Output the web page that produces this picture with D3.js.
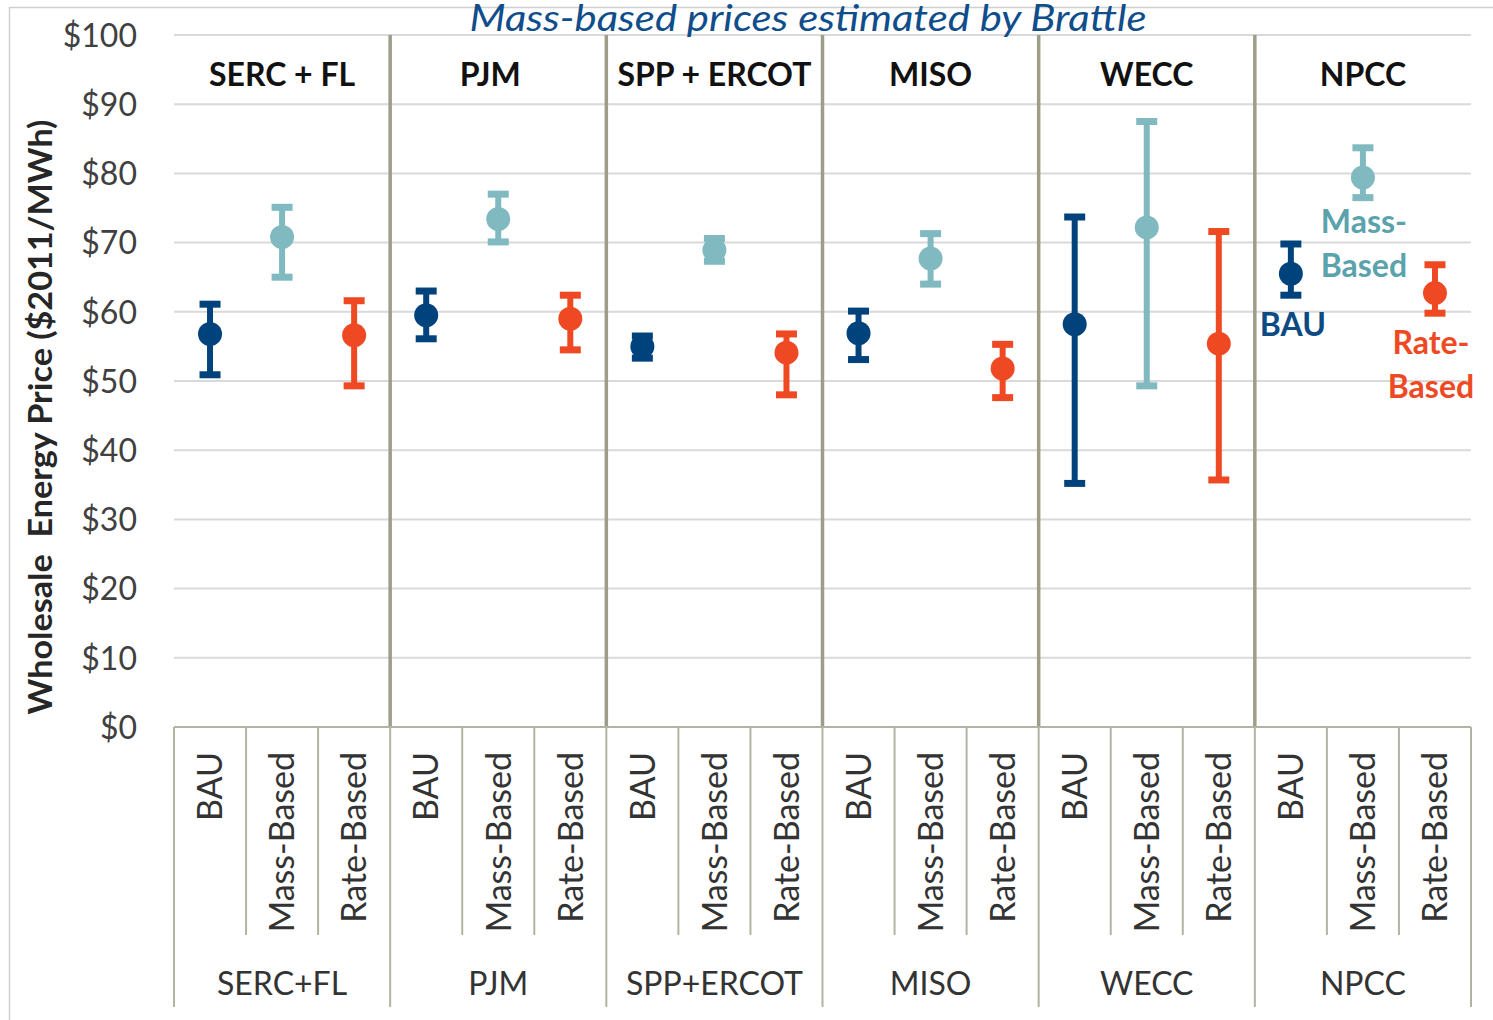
<!DOCTYPE html>
<html>
<head>
<meta charset="utf-8">
<script src="https://cdn.jsdelivr.net/npm/d3@7"></script>
<style>
  html, body { margin: 0; padding: 0; background: #fff; }
  svg { display: block; font-family: Lato, "Open Sans", sans-serif; }
</style>
</head>
<body>
<svg id="chart" width="1493" height="1020"></svg>
<script>
// ---- data ----
const regions = ["SERC+FL", "PJM", "SPP+ERCOT", "MISO", "WECC", "NPCC"];
const headerLabels = ["SERC + FL", "PJM", "SPP + ERCOT", "MISO", "WECC", "NPCC"];
const scenarios = ["BAU", "Mass-Based", "Rate-Based"];
const bauMid  = [56.8, 59.5, 55.0, 56.9, 58.2, 65.5];
const bauLow  = [50.9, 56.1, 53.3, 53.1, 35.2, 62.4];
const bauHigh = [61.1, 63.0, 56.5, 60.1, 73.7, 69.8];
const massMid  = [70.8, 73.4, 68.9, 67.7, 72.2, 79.4];
const massLow  = [65.0, 70.1, 67.3, 64.0, 49.3, 76.5];
const massHigh = [75.1, 77.0, 70.6, 71.3, 87.5, 83.7];
const rateMid  = [56.6, 59.0, 54.1, 51.8, 55.4, 62.7];
const rateLow  = [49.3, 54.5, 48.0, 47.6, 35.7, 59.8];
const rateHigh = [61.6, 62.4, 56.8, 55.3, 71.6, 66.8];
const yTicks = [0, 10, 20, 30, 40, 50, 60, 70, 80, 90, 100];
const titleText = "Mass-based prices estimated by Brattle";
const yTitle = "Wholesale  Energy Price ($2011/MWh)";

const colors = { "BAU": "#00437c", "Mass-Based": "#80b9c0", "Rate-Based": "#ef4923" };
const labelColors = { "BAU": "#0b4a82", "Mass-Based": "#5aa3ac", "Rate-Based": "#ef4923" };

const series = [
  { name: "BAU", mid: bauMid, low: bauLow, high: bauHigh },
  { name: "Mass-Based", mid: massMid, low: massLow, high: massHigh },
  { name: "Rate-Based", mid: rateMid, low: rateLow, high: rateHigh }
];

// ---- layout ----
const svg = d3.select("#chart");
const pLeft = 174, pRight = 1471, pTop = 35, pBottom = 727;

const x0 = d3.scaleBand().domain(regions).range([pLeft, pRight]);
const x1 = d3.scaleBand().domain(scenarios).range([0, x0.bandwidth()]);
const y = d3.scaleLinear().domain([0, 100]).range([pBottom, pTop]);
const cx = (ri, s) => x0(regions[ri]) + x1(s) + x1.bandwidth() / 2;

// frame
svg.append("rect").attr("x", 9.5).attr("y", 7.5).attr("width", 1500).attr("height", 1030)
  .attr("fill", "none").attr("stroke", "#d0d0d0").attr("stroke-width", 1.5);

// gridlines
svg.append("g").selectAll("line").data(yTicks.filter(d => d > 0)).join("line")
  .attr("x1", pLeft).attr("x2", pRight)
  .attr("y1", d => y(d)).attr("y2", d => y(d))
  .attr("stroke", "#d9d9d9").attr("stroke-width", 2);

// y axis labels
const yAxis = d3.axisLeft(y).tickValues(yTicks).tickSize(0).tickPadding(37).tickFormat(d => "$" + d);
const ya = svg.append("g").attr("transform", `translate(${pLeft},0)`).call(yAxis);
ya.select(".domain").remove();
ya.selectAll("text").attr("font-family", "Lato, sans-serif").attr("font-size", 32)
  .attr("fill", "#404040").attr("dy", "0.35em");

// y title
svg.append("text")
  .attr("transform", "translate(52,417) rotate(-90)")
  .attr("text-anchor", "middle").attr("font-weight", "bold").attr("font-size", 33)
  .attr("fill", "#262626").style("white-space", "pre")
  .attr("textLength", 595).attr("lengthAdjust", "spacingAndGlyphs")
  .text(yTitle);

// group separators inside plot
svg.append("g").selectAll("line").data(regions.slice(1)).join("line")
  .attr("x1", d => x0(d)).attr("x2", d => x0(d))
  .attr("y1", y(100)).attr("y2", y(0))
  .attr("stroke", "#9d9d8a").attr("stroke-width", 3.5);

// category axis
const axisColor = "#b3b3a3";
svg.append("line").attr("x1", pLeft).attr("x2", pRight).attr("y1", y(0)).attr("y2", y(0))
  .attr("stroke", axisColor).attr("stroke-width", 2);
const innerTicks = [];
regions.forEach(r => { innerTicks.push(x0(r) + x1("Mass-Based")); innerTicks.push(x0(r) + x1("Rate-Based")); });
svg.append("g").selectAll("line").data(innerTicks).join("line")
  .attr("x1", d => d).attr("x2", d => d).attr("y1", y(0)).attr("y2", 935)
  .attr("stroke", axisColor).attr("stroke-width", 2);
const outerTicks = regions.map(r => x0(r)).concat([pRight]);
svg.append("g").selectAll("line").data(outerTicks).join("line")
  .attr("x1", d => d).attr("x2", d => d).attr("y1", y(0)).attr("y2", 1007)
  .attr("stroke", axisColor).attr("stroke-width", 2);

// rotated scenario labels
const catData = [];
regions.forEach((r, ri) => scenarios.forEach(s => catData.push({ ri, s })));
svg.append("g").selectAll("text").data(catData).join("text")
  .attr("transform", d => `translate(${cx(d.ri, d.s)},752) rotate(-90)`)
  .attr("text-anchor", "end").attr("dy", "0.36em")
  .attr("font-size", 34).attr("fill", "#333333")
  .text(d => d.s);

// region labels below
svg.append("g").selectAll("text").data(regions).join("text")
  .attr("x", d => x0(d) + x0.bandwidth() / 2).attr("y", 995)
  .attr("text-anchor", "middle").attr("font-size", 32).attr("fill", "#333333")
  .text(d => d);

// header labels inside plot
svg.append("g").selectAll("text").data(headerLabels).join("text")
  .attr("x", (d, i) => x0(regions[i]) + x0.bandwidth() / 2 + (d === "PJM" ? -8 : 0)).attr("y", 86)
  .attr("text-anchor", "middle").attr("font-weight", "bold").attr("font-size", 32).attr("fill", "#111")
  .text(d => d);

// error bars + markers
const capW = 21;
series.forEach(s => {
  const g = svg.append("g");
  const idx = d3.range(regions.length);
  g.selectAll("line.v").data(idx).join("line").attr("class", "v")
    .attr("x1", i => cx(i, s.name)).attr("x2", i => cx(i, s.name))
    .attr("y1", i => y(s.low[i])).attr("y2", i => y(s.high[i]))
    .attr("stroke", colors[s.name]).attr("stroke-width", 6);
  g.selectAll("line.ct").data(idx).join("line").attr("class", "ct")
    .attr("x1", i => cx(i, s.name) - capW / 2).attr("x2", i => cx(i, s.name) + capW / 2)
    .attr("y1", i => y(s.high[i])).attr("y2", i => y(s.high[i]))
    .attr("stroke", colors[s.name]).attr("stroke-width", 7);
  g.selectAll("line.cb").data(idx).join("line").attr("class", "cb")
    .attr("x1", i => cx(i, s.name) - capW / 2).attr("x2", i => cx(i, s.name) + capW / 2)
    .attr("y1", i => y(s.low[i])).attr("y2", i => y(s.low[i]))
    .attr("stroke", colors[s.name]).attr("stroke-width", 7);
  g.selectAll("circle").data(idx).join("circle")
    .attr("cx", i => cx(i, s.name)).attr("cy", i => y(s.mid[i])).attr("r", 12)
    .attr("fill", colors[s.name]);
});

// NPCC annotations
const ni = regions.indexOf("NPCC");
const annots = [
  { s: "Mass-Based", lines: ["Mass-", "Based"], dy0: 55, dx: 1 },
  { s: "BAU", lines: ["BAU"], dy0: 62, dx: 2 },
  { s: "Rate-Based", lines: ["Rate-", "Based"], dy0: 61, dx: -4 }
];
annots.forEach(a => {
  const si = series.find(q => q.name === a.s);
  const t = svg.append("text")
    .attr("text-anchor", "middle").attr("font-weight", "bold").attr("font-size", 32)
    .attr("fill", labelColors[a.s]);
  a.lines.forEach((ln, k) => {
    t.append("tspan").attr("x", cx(ni, a.s) + a.dx)
      .attr("y", y(si.mid[ni]) + a.dy0 + k * 44).text(ln);
  });
});

// title
svg.append("text").attr("x", 808).attr("y", 31).attr("text-anchor", "middle")
  .attr("font-style", "italic").attr("font-size", 36).attr("fill", "#104d8b")
  .attr("textLength", 677).attr("lengthAdjust", "spacingAndGlyphs")
  .text(titleText);
</script>
</body>
</html>
